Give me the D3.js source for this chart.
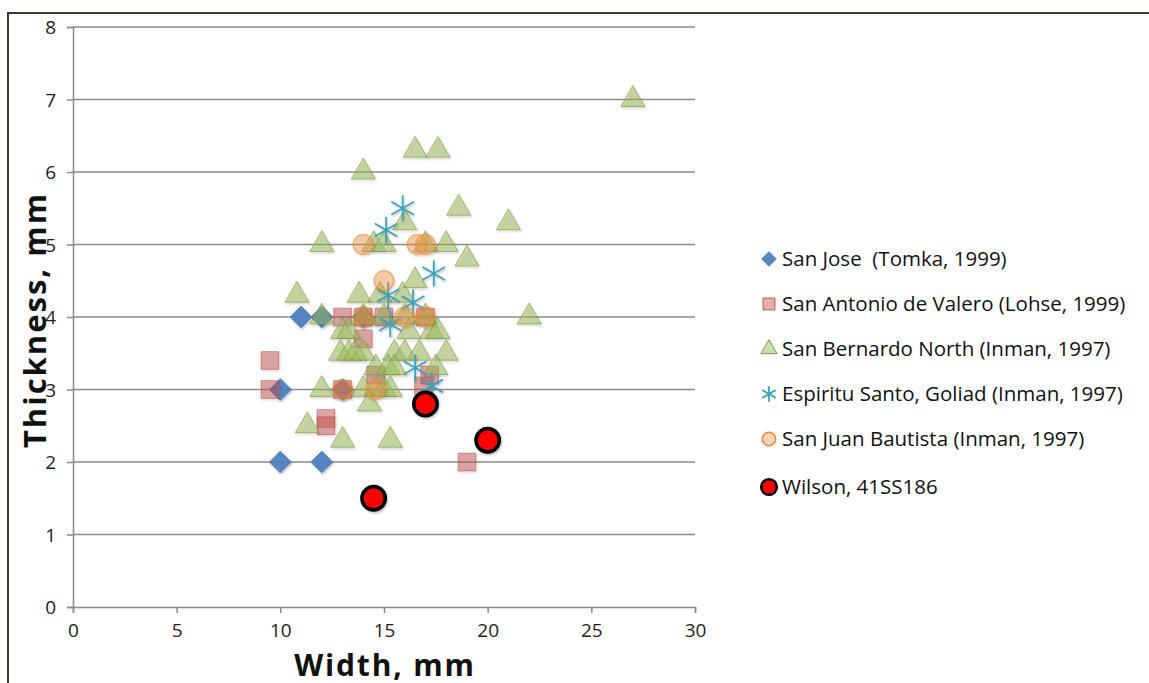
<!DOCTYPE html>
<html>
<head>
<meta charset="utf-8">
<script src="https://cdn.jsdelivr.net/npm/d3@7"></script>
<style>
  body { margin: 0; background: #fff; }
  svg text { font-family: "Open Sans", "DejaVu Sans", sans-serif; fill: #111; }
</style>
</head>
<body>
<svg id="chart" width="1149" height="683"></svg>
<script>
// data (width mm, thickness mm)
const sanJose = [[10,2],[12,2],[10,3],[13,3],[11,4],[12,4],[14,4]];
const sanAntonio = [[9.5,3.4],[9.5,3],[12.2,2.6],[12.2,2.5],[13,4],[14,4],[15,4],[17,4],[14,3.7],[13,3],[14.6,3.2],[17.2,3.2],[16.9,3.05],[19,2]];
const sanBernardo = [[27,7],[16.5,6.3],[17.6,6.3],[14,6],[18.6,5.5],[21,5.3],[16,5.3],[19,4.8],[12,5],[14.5,5],[15,5],[18,5],[17,5],
  [22,4],[10.8,4.3],[13.8,4.3],[16.5,4.5],[14.8,4.3],[15.9,4.3],[12,4],[16,4],[17,4],[14,4],[15,4],
  [13,3.8],[13.3,3.8],[16.2,3.8],[17.3,3.8],[17.6,3.8],[12.9,3.5],[13.3,3.5],[13.6,3.5],[14,3.5],[15.5,3.5],[16,3.5],[16.7,3.5],[18,3.5],
  [14.6,3.3],[15.2,3.3],[15.5,3.3],[17.5,3.3],[12,3],[14,3],[14.6,3],[15,3],[15.3,3],[14.3,2.8],[11.3,2.5],[13,2.3],[15.3,2.3]];
const espiritu = [[15.9,5.5],[15.1,5.2],[17.4,4.6],[15.2,4.3],[16.4,4.2],[15.3,3.9],[16.5,3.3],[17.3,3.05]];
const sanJuan = [[14,5],[16.6,5],[17,5],[15,4.5],[14,4],[16,4],[17,4],[13,3],[14.6,3]];
const wilson = [[17,2.8],[20,2.3],[14.5,1.5]];

const seriesNames = ["San Jose  (Tomka, 1999)", "San Antonio de Valero (Lohse, 1999)", "San Bernardo North (Inman, 1997)",
  "Espiritu Santo, Goliad (Inman, 1997)", "San Juan Bautista (Inman, 1997)", "Wilson, 41SS186"];
const xTicks = [0,5,10,15,20,25,30];
const yTicks = [0,1,2,3,4,5,6,7,8];

const svg = d3.select("#chart");

// soft shadow like the old excel markers
const defs = svg.append("defs");
defs.append("filter").attr("id", "shadow").attr("x", "-50%").attr("y", "-50%").attr("width", "200%").attr("height", "200%")
  .append("feDropShadow").attr("dx", 1).attr("dy", 1.5).attr("stdDeviation", 1.2)
  .attr("flood-color", "#000").attr("flood-opacity", 0.25);

// frame
svg.append("rect").attr("x", 8).attr("y", 13).attr("width", 1160).attr("height", 700)
  .attr("fill", "none").attr("stroke", "#3a3a30").attr("stroke-width", 2);

const x = d3.scaleLinear().domain([0, 30]).range([73, 695]);
const y = d3.scaleLinear().domain([0, 8]).range([607, 27]);

// gridlines
svg.append("g").selectAll("line").data(yTicks.slice(1)).join("line")
  .attr("x1", x(0)).attr("x2", x(30))
  .attr("y1", d => y(d)).attr("y2", d => y(d))
  .attr("stroke", "#8a8a8a").attr("stroke-width", 1.5);

// axes: lines and ticks from d3, labels added per tick
const xAxis = svg.append("g").attr("transform", `translate(0,${y(0)})`)
  .call(d3.axisBottom(x).tickValues(xTicks).tickSize(6).tickFormat(() => ""));
const yAxis = svg.append("g").attr("transform", `translate(${x(0)},0)`)
  .call(d3.axisLeft(y).tickValues(yTicks).tickSize(6).tickFormat(() => ""));
[xAxis, yAxis].forEach(a => {
  a.select(".domain").attr("stroke", "#8a8a8a").attr("stroke-width", 1.5);
  a.selectAll(".tick line").attr("stroke", "#8a8a8a").attr("stroke-width", 1.5);
  a.selectAll(".tick text").remove();
});
xAxis.selectAll(".tick").append("text")
  .attr("y", 30).attr("text-anchor", "middle")
  .attr("font-size", 19).style("fill", "#222").text(d => d);
yAxis.selectAll(".tick").append("text")
  .attr("x", -17).attr("dy", "0.35em").attr("text-anchor", "end")
  .attr("font-size", 19).style("fill", "#222").text(d => d);

// axis titles
svg.append("text").attr("x", 385).attr("y", 676).attr("text-anchor", "middle")
  .style("font-size", "30px").style("font-weight", "bold").style("letter-spacing", "1.8px").text("Width, mm");
svg.append("text").attr("transform", "translate(46,320) rotate(-90)").attr("text-anchor", "middle")
  .style("font-size", "31px").style("font-weight", "bold").style("letter-spacing", "2px").text("Thickness, mm");

// marker styles
const styles = [
  { sym: d3.symbolDiamond2, size: 300, fill: "#4f81bd", op: 0.95, stroke: "#4f81bd", sw: 1 },
  { sym: d3.symbolSquare, size: 310, fill: "#c0504d", op: 0.45, stroke: "#c0504d", sw: 1 },
  { sym: d3.symbolTriangle, size: 250, fill: "#9bbb59", op: 0.5, stroke: "#7f9a48", sw: 1 },
  { sym: d3.symbolAsterisk, size: 480, fill: "none", op: 1, stroke: "#3ea3bd", sw: 1.8 },
  { sym: d3.symbolCircle, size: 310, fill: "#f79646", op: 0.4, stroke: "#e8883a", sw: 1.5 },
  { sym: d3.symbolCircle, size: 430, fill: "#ff0000", op: 1, stroke: "#000", sw: 3.5 }
];
const allSeries = [sanJose, sanAntonio, sanBernardo, espiritu, sanJuan, wilson];

allSeries.forEach((data, i) => {
  const s = styles[i];
  svg.append("g").attr("filter", "url(#shadow)")
    .selectAll("path").data(data).join("path")
    .attr("d", d3.symbol().type(s.sym).size(s.size))
    .attr("transform", d => `translate(${x(d[0])},${y(d[1])})`)
    .attr("fill", s.fill).attr("fill-opacity", s.op)
    .attr("stroke", s.stroke).attr("stroke-width", s.sw)
    .attr("stroke-opacity", s.fill === "none" ? 1 : Math.min(1, s.op + 0.15));
});

// legend
const legend = svg.append("g").attr("transform", "translate(769,259)");
seriesNames.forEach((name, i) => {
  const s = styles[i];
  const row = legend.append("g").attr("transform", `translate(0,${i * 45 + (i === 5 ? 3 : 0)})`);
  row.append("path")
    .attr("d", d3.symbol().type(s.sym).size(s.size * (i === 3 ? 0.35 : 0.45)))
    .attr("fill", s.fill).attr("fill-opacity", s.op)
    .attr("stroke", s.stroke).attr("stroke-width", i === 5 ? 2.5 : s.sw);
  row.append("text").attr("x", 13).attr("y", 7)
    .style("font-size", "20.5px").style("white-space", "pre").text(name);
});
</script>
</body>
</html>
